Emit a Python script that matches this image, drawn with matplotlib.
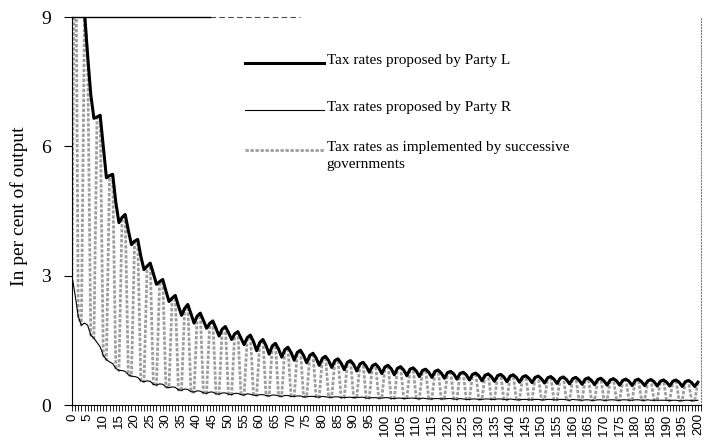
import numpy as np
import matplotlib.pyplot as plt
from matplotlib.lines import Line2D
from matplotlib.ticker import MultipleLocator

# one value per period, 0..200 (rows of four periods)
periods = np.arange(201)

party_l = [
    15.0, 13.5, 11.8, 10.2,
    9.1, 8.1, 7.2, 6.65,
    6.68, 6.72, 6.0, 5.27,
    5.32, 5.35, 4.7, 4.23,
    4.35, 4.42, 4.05, 3.72,
    3.80, 3.84, 3.45, 3.14,
    3.22, 3.29, 3.05, 2.80,
    2.86, 2.91, 2.65, 2.40,
    2.48, 2.54, 2.30, 2.08,
    2.24, 2.33, 2.12, 1.90,
    2.06, 2.13, 1.96, 1.78,
    1.89, 1.95, 1.78, 1.60,
    1.76, 1.82, 1.68, 1.52,
    1.65, 1.70, 1.55, 1.40,
    1.56, 1.62, 1.47, 1.26,
    1.45, 1.52, 1.38, 1.18,
    1.37, 1.43, 1.30, 1.11,
    1.28, 1.34, 1.22, 1.04,
    1.22, 1.27, 1.15, 0.98,
    1.15, 1.20, 1.09, 0.92,
    1.08, 1.13, 1.03, 0.87,
    1.03, 1.07, 0.97, 0.82,
    0.99, 1.03, 0.94, 0.79,
    0.95, 0.99, 0.90, 0.76,
    0.91, 0.95, 0.87, 0.73,
    0.88, 0.92, 0.84, 0.70,
    0.85, 0.89, 0.81, 0.68,
    0.83, 0.86, 0.79, 0.66,
    0.80, 0.83, 0.76, 0.64,
    0.78, 0.81, 0.74, 0.62,
    0.75, 0.78, 0.72, 0.60,
    0.73, 0.76, 0.70, 0.58,
    0.71, 0.74, 0.68, 0.56,
    0.69, 0.72, 0.66, 0.55,
    0.68, 0.71, 0.65, 0.54,
    0.67, 0.70, 0.64, 0.53,
    0.65, 0.68, 0.62, 0.52,
    0.64, 0.67, 0.61, 0.51,
    0.63, 0.66, 0.60, 0.50,
    0.62, 0.65, 0.59, 0.49,
    0.61, 0.64, 0.58, 0.48,
    0.60, 0.63, 0.57, 0.47,
    0.59, 0.62, 0.56, 0.46,
    0.58, 0.61, 0.56, 0.46,
    0.57, 0.60, 0.55, 0.45,
    0.57, 0.60, 0.54, 0.45,
    0.56, 0.59, 0.54, 0.44,
    0.55, 0.58, 0.53, 0.44,
    0.55, 0.58, 0.53, 0.43,
    0.54, 0.57, 0.52, 0.43,
    0.53,
]

party_r = [
    3.00, 2.55, 2.05, 1.85,
    1.90, 1.85, 1.62, 1.55,
    1.45, 1.35, 1.15, 1.05,
    1.00, 0.96, 0.85, 0.80,
    0.80, 0.78, 0.70, 0.67,
    0.66, 0.64, 0.56, 0.54,
    0.56, 0.55, 0.48, 0.46,
    0.49, 0.48, 0.42, 0.40,
    0.42, 0.41, 0.35, 0.34,
    0.37, 0.36, 0.31, 0.30,
    0.33, 0.32, 0.28, 0.27,
    0.30, 0.30, 0.26, 0.25,
    0.28, 0.28, 0.25, 0.24,
    0.27, 0.27, 0.24, 0.23,
    0.26, 0.25, 0.23, 0.22,
    0.24, 0.24, 0.22, 0.21,
    0.23, 0.23, 0.21, 0.20,
    0.22, 0.22, 0.20, 0.20,
    0.21, 0.21, 0.19, 0.19,
    0.20, 0.20, 0.19, 0.18,
    0.20, 0.19, 0.18, 0.18,
    0.19, 0.19, 0.17, 0.17,
    0.18, 0.18, 0.17, 0.17,
    0.18, 0.18, 0.16, 0.16,
    0.17, 0.17, 0.16, 0.16,
    0.17, 0.17, 0.15, 0.15,
    0.16, 0.16, 0.15, 0.15,
    0.16, 0.16, 0.15, 0.14,
    0.16, 0.15, 0.14, 0.14,
    0.15, 0.15, 0.14, 0.14,
    0.15, 0.15, 0.14, 0.13,
    0.15, 0.14, 0.13, 0.13,
    0.14, 0.14, 0.13, 0.13,
    0.14, 0.14, 0.13, 0.13,
    0.14, 0.14, 0.13, 0.12,
    0.14, 0.13, 0.12, 0.12,
    0.13, 0.13, 0.12, 0.12,
    0.13, 0.13, 0.12, 0.12,
    0.13, 0.13, 0.12, 0.12,
    0.13, 0.13, 0.12, 0.11,
    0.13, 0.12, 0.12, 0.11,
    0.12, 0.12, 0.11, 0.11,
    0.12, 0.12, 0.11, 0.11,
    0.12, 0.12, 0.11, 0.11,
    0.12, 0.12, 0.11, 0.11,
    0.12, 0.12, 0.11, 0.11,
    0.12, 0.11, 0.11, 0.11,
    0.11, 0.11, 0.11, 0.10,
    0.11, 0.11, 0.10, 0.10,
    0.11, 0.11, 0.10, 0.10,
    0.11,
]

implemented = [
    3.00, 13.5, 2.05, 1.85,
    9.1, 8.1, 1.62, 1.55,
    6.68, 6.72, 1.15, 1.05,
    5.32, 5.35, 0.85, 0.80,
    4.35, 4.42, 0.70, 0.67,
    3.80, 3.84, 0.56, 0.54,
    3.22, 3.29, 0.48, 0.46,
    2.86, 2.91, 0.42, 0.40,
    2.48, 2.54, 0.35, 0.34,
    2.24, 2.33, 0.31, 0.30,
    2.06, 2.13, 0.28, 0.27,
    1.89, 1.95, 0.26, 0.25,
    1.76, 1.82, 0.25, 0.24,
    1.65, 1.70, 0.24, 0.23,
    1.56, 1.62, 0.23, 0.22,
    1.45, 1.52, 0.22, 0.21,
    1.37, 1.43, 0.21, 0.20,
    1.28, 1.34, 0.20, 0.20,
    1.22, 1.27, 0.19, 0.19,
    1.15, 1.20, 0.19, 0.18,
    1.08, 1.13, 0.18, 0.18,
    1.03, 1.07, 0.17, 0.17,
    0.99, 1.03, 0.17, 0.17,
    0.95, 0.99, 0.16, 0.16,
    0.91, 0.95, 0.16, 0.16,
    0.88, 0.92, 0.15, 0.15,
    0.85, 0.89, 0.15, 0.15,
    0.83, 0.86, 0.15, 0.14,
    0.80, 0.83, 0.14, 0.14,
    0.78, 0.81, 0.14, 0.14,
    0.75, 0.78, 0.14, 0.13,
    0.73, 0.76, 0.13, 0.13,
    0.71, 0.74, 0.13, 0.13,
    0.69, 0.72, 0.13, 0.13,
    0.68, 0.71, 0.13, 0.12,
    0.67, 0.70, 0.12, 0.12,
    0.65, 0.68, 0.12, 0.12,
    0.64, 0.67, 0.12, 0.12,
    0.63, 0.66, 0.12, 0.12,
    0.62, 0.65, 0.12, 0.11,
    0.61, 0.64, 0.12, 0.11,
    0.60, 0.63, 0.11, 0.11,
    0.59, 0.62, 0.11, 0.11,
    0.58, 0.61, 0.11, 0.11,
    0.57, 0.60, 0.11, 0.11,
    0.57, 0.60, 0.11, 0.11,
    0.56, 0.59, 0.11, 0.11,
    0.55, 0.58, 0.11, 0.10,
    0.55, 0.58, 0.10, 0.10,
    0.54, 0.57, 0.10, 0.10,
    0.53,
]

labels = ['Tax rates proposed by Party L',
          'Tax rates proposed by Party R',
          'Tax rates as implemented by successive\ngovernments']

serif = 'Liberation Serif'
gray_style = dict(color='0.62', lw=2.0, ls=(0, (1.2, 0.6)))

fig = plt.figure(figsize=(7.04, 4.44), dpi=100)
ax = fig.add_axes([72 / 704, 1 - 405 / 444, 629 / 704, 388 / 444])

ax.plot(periods, implemented, **gray_style)
ax.plot(periods, party_r, color='black', lw=0.8)
ax.plot(periods, party_l, color='black', lw=2.2)

ax.set_xlim(0, 201)
ax.set_ylim(0, 9)
ax.set_yticks([0, 3, 6, 9])
ax.xaxis.set_major_locator(MultipleLocator(5))
ax.xaxis.set_minor_locator(MultipleLocator(1))
ax.tick_params(axis='x', which='both', direction='out', length=4, width=0.6,
               labelsize=9.5, labelrotation=90, pad=2)
ax.tick_params(axis='y', direction='out', length=6, width=0.8, pad=9,
               labelsize=14)
for t in ax.get_xticklabels():
    t.set_family('Liberation Sans')
for t in ax.get_yticklabels():
    t.set_family(serif)

# faded scan: top border solid at first, then broken
ax.spines['top'].set_bounds(0, 44)
ax.spines['top'].set_linewidth(1.0)
ax.hlines(9, 44, 73, colors='0.3', lw=0.8, linestyles=(0, (5, 3)), clip_on=False)
ax.spines['right'].set_linestyle(':')
ax.spines['right'].set_color('0.5')
ax.spines['right'].set_linewidth(0.8)

fig.text(0.027, 0.535, 'In per cent of output', rotation=90, va='center',
         ha='center', family=serif, fontsize=14)

# legend drawn by hand so the wrapped label keeps its sample on the first line
styles = [dict(color='black', lw=2.2), dict(color='black', lw=0.8), gray_style]
rows = [0.881, 0.760, 0.657]
for lab, st, y in zip(labels, styles, rows):
    ax.add_line(Line2D([0.275, 0.4006], [y, y], transform=ax.transAxes, **st))
    ax.text(0.405, y + 0.024, lab, transform=ax.transAxes, va='top', ha='left',
            family=serif, fontsize=11, linespacing=1.45)

fig.savefig('out.png', dpi=100)
